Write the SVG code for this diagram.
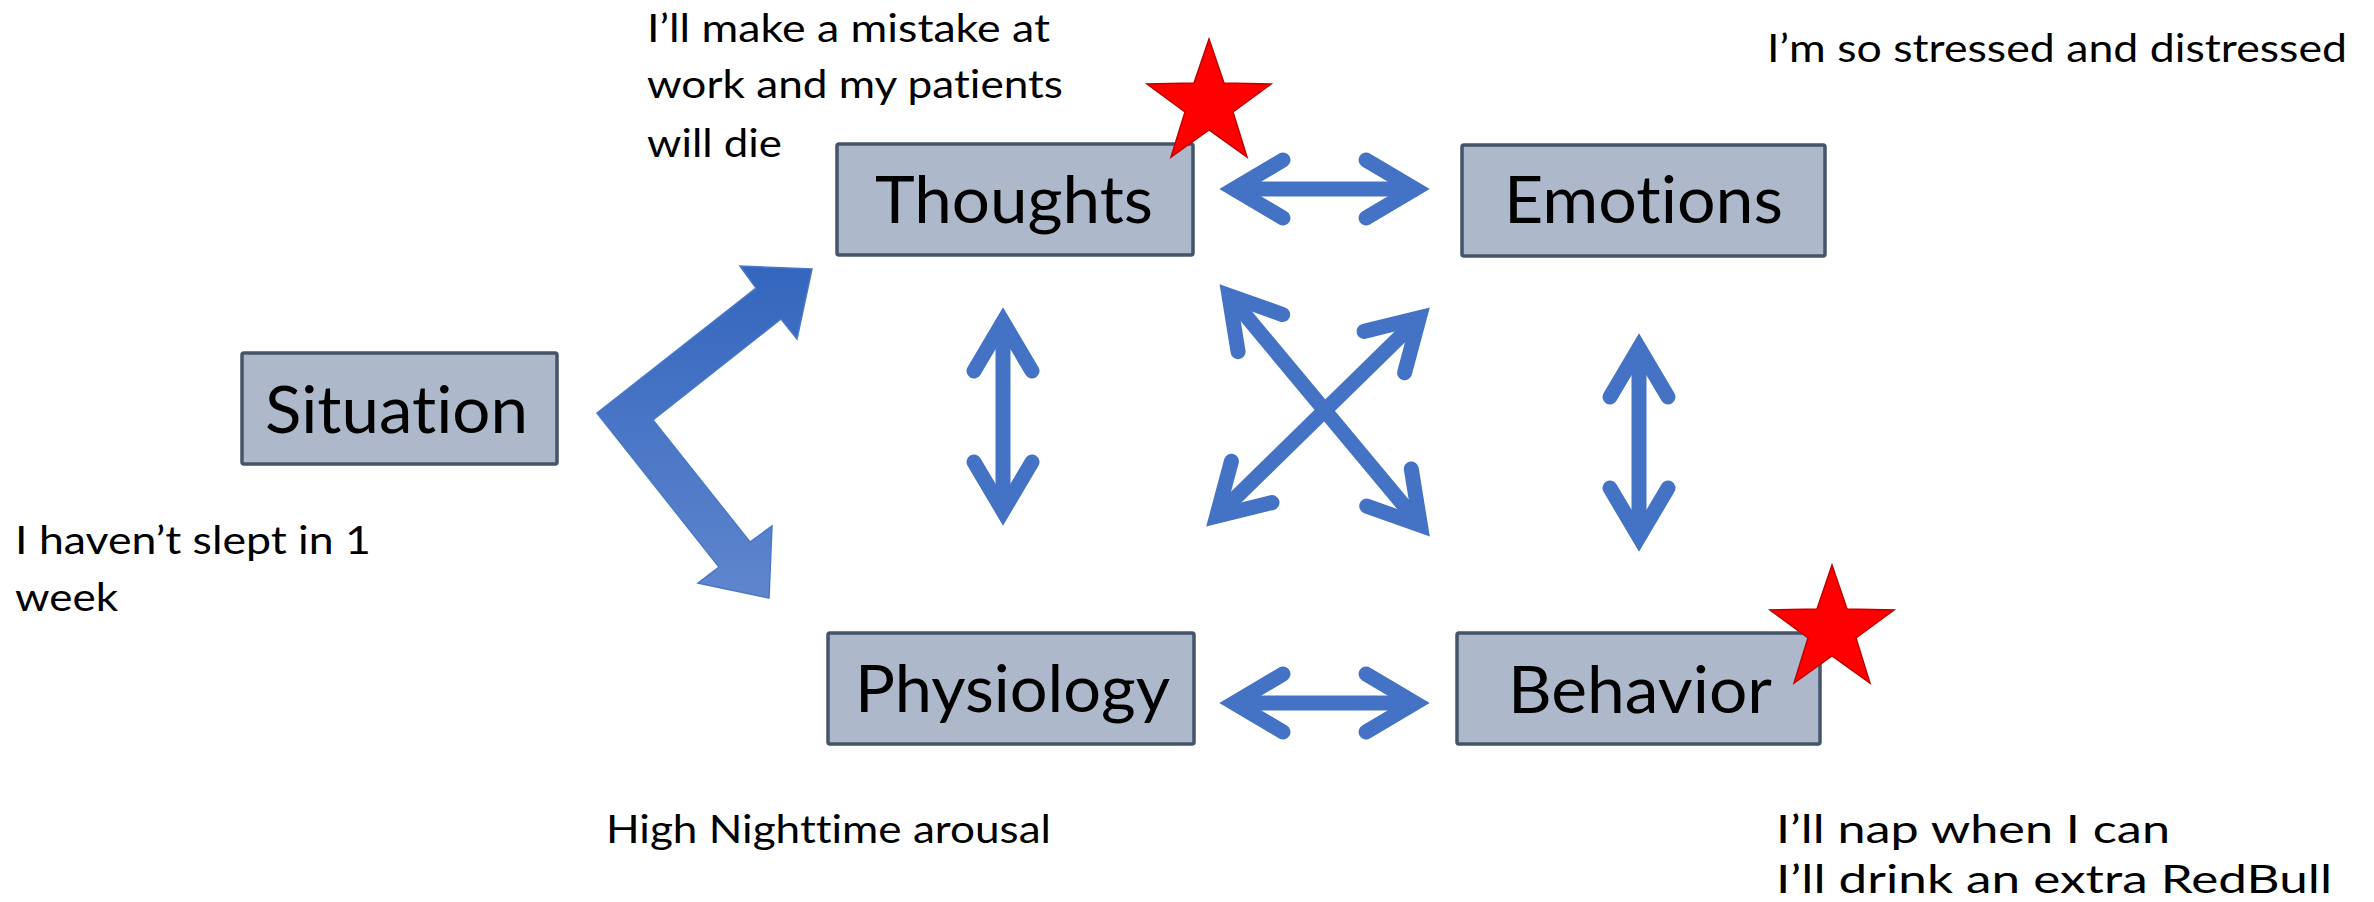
<svg xmlns="http://www.w3.org/2000/svg" width="2374" height="902" viewBox="0 0 2374 902">
  <style>
    .box { fill: #adb9ca; stroke: #44546a; stroke-width: 3.5; }
    .label { font-family: Lato, "Open Sans", "Liberation Sans", sans-serif; font-size: 66px; fill: #000; font-variant-ligatures: none; }
    .note { font-family: Lato, "Open Sans", "Liberation Sans", sans-serif; font-size: 38px; fill: #000; font-variant-ligatures: none; }
    .link { fill: none; stroke: #4472c4; stroke-width: 15; stroke-linecap: butt; marker-start: url(#head); marker-end: url(#head); }
    .star { fill: #ff0000; stroke: #c00000; stroke-width: 1.5; stroke-linejoin: miter; }
  </style>
  <defs>
    <!-- open arrowhead: two thick barbs meeting in a mitred point -->
    <marker id="head" markerUnits="userSpaceOnUse" orient="auto-start-reverse" refX="0" refY="0" markerWidth="10" markerHeight="10" overflow="visible">
      <polyline points="-49,-29 0,0 -49,29" fill="none" stroke="#4472c4" stroke-width="15" stroke-linejoin="miter" stroke-miterlimit="10" stroke-linecap="round"/>
    </marker>
    <linearGradient id="bentFill" gradientUnits="userSpaceOnUse" x1="0" y1="266" x2="0" y2="598">
      <stop offset="0" stop-color="#3466be"/>
      <stop offset="1" stop-color="#5f86cd"/>
    </linearGradient>
    <polygon id="star5" points="0,-65 15,-21 62,-20 24,8 38,53 0,26 -38,53 -24,8 -62,-20 -15,-21"/>
  </defs>

  <!-- connectors -->
  <g id="connectors">
    <!-- split arrow from Situation to Thoughts and Physiology -->
    <polygon points="597,413 756,288 740,266 812,269 797,339 781,319 653,420 750,542 772,526 769,598 698,583 719,567" fill="url(#bentFill)" stroke="#4a78c8" stroke-width="1.5" stroke-linejoin="miter"/>
    <!-- Thoughts <-> Emotions -->
    <path class="link" d="M1234,189 L1415,189"/>
    <!-- Physiology <-> Behavior -->
    <path class="link" d="M1234,703 L1415,703"/>
    <!-- Thoughts <-> Physiology -->
    <path class="link" d="M1003,322 L1003,511"/>
    <!-- Emotions <-> Behavior -->
    <path class="link" d="M1639,348 L1639,537"/>
    <!-- Thoughts <-> Behavior -->
    <path class="link" d="M1229,295.5 L1420.4,525.2"/>
    <!-- Physiology <-> Emotions -->
    <path class="link" d="M1216.7,516.2 L1419.3,317.8"/>
  </g>

  <g id="situation">
    <rect class="box" x="242" y="353" width="315" height="111" rx="2"/>
    <text class="label" x="265" y="433" textLength="263" lengthAdjust="spacingAndGlyphs">Situation</text>
  </g>

  <g id="thoughts">
    <rect class="box" x="837" y="144" width="356" height="111" rx="2"/>
    <text class="label" x="875" y="223" textLength="278" lengthAdjust="spacingAndGlyphs">Thoughts</text>
  </g>

  <g id="emotions">
    <rect class="box" x="1462" y="145" width="363" height="111" rx="2"/>
    <text class="label" x="1504" y="223" textLength="279" lengthAdjust="spacingAndGlyphs">Emotions</text>
  </g>

  <g id="physiology">
    <rect class="box" x="828" y="633" width="366" height="111" rx="2"/>
    <text class="label" x="855" y="712" textLength="315" lengthAdjust="spacingAndGlyphs">Physiology</text>
  </g>

  <g id="behavior">
    <rect class="box" x="1457" y="633" width="363" height="111" rx="2"/>
    <text class="label" x="1508" y="713" textLength="264" lengthAdjust="spacingAndGlyphs">Behavior</text>
  </g>

  <!-- emphasis stars -->
  <g id="star-thoughts">
    <use href="#star5" class="star" transform="translate(1209,104)"/>
  </g>
  <g id="star-behavior">
    <use href="#star5" class="star" transform="translate(1832,630)"/>
  </g>

  <!-- example notes -->
  <g id="note-thoughts">
    <text class="note" x="647" y="42" textLength="403" lengthAdjust="spacingAndGlyphs">I’ll make a mistake at</text>
    <text class="note" x="647" y="98" textLength="416" lengthAdjust="spacingAndGlyphs">work and my patients</text>
    <text class="note" x="647" y="157" textLength="135" lengthAdjust="spacingAndGlyphs">will die</text>
  </g>
  <g id="note-emotions">
    <text class="note" x="1767" y="62" textLength="580" lengthAdjust="spacingAndGlyphs">I’m so stressed and distressed</text>
  </g>
  <g id="note-situation">
    <text class="note" x="15" y="554" textLength="356" lengthAdjust="spacingAndGlyphs">I haven’t slept in 1</text>
    <text class="note" x="15" y="611" textLength="103" lengthAdjust="spacingAndGlyphs">week</text>
  </g>
  <g id="note-physiology">
    <text class="note" x="606" y="843" textLength="445" lengthAdjust="spacingAndGlyphs">High Nighttime arousal</text>
  </g>
  <g id="note-behavior">
    <text class="note" x="1776" y="843" textLength="394" lengthAdjust="spacingAndGlyphs">I’ll nap when I can</text>
    <text class="note" x="1776" y="893" textLength="556" lengthAdjust="spacingAndGlyphs">I’ll drink an extra RedBull</text>
  </g>
</svg>
